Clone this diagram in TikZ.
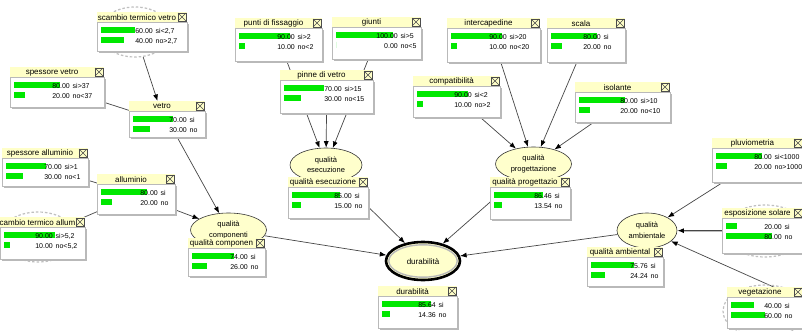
\documentclass[tikz,border=0pt]{standalone}
\usepackage{fontspec}
\setmainfont{Liberation Sans}
\usetikzlibrary{arrows.meta,shapes.geometric,calc}
\definecolor{tbyellow}{RGB}{255,255,200}
\definecolor{ellyellow}{RGB}{255,255,204}
\definecolor{barg}{RGB}{0,232,0}
\definecolor{linkgray}{RGB}{70,70,70}
\pgfdeclarelayer{bg}
\pgfsetlayers{bg,main}
\tikzset{
  monnode/.style={rectangle, inner sep=0pt, anchor=north west},
  monshadow/.style={fill=gray!55},
  monbody/.style={fill=white, draw=gray!55, line width=0.5pt},
  montitle/.style={inner sep=0pt, font=\fontsize{8}{9}\selectfont},
  val/.style={inner sep=0pt, font=\fontsize{7}{8}\selectfont},
  xbox/.style={rectangle, draw=gray!60!black, line width=0.4pt, fill=tbyellow, minimum size=7.5pt, inner sep=0pt},
  xline/.style={draw=gray!60!black, line width=0.4pt},
  ell/.style={ellipse, draw=black!80, line width=0.6pt, fill=ellyellow, inner sep=0pt, align=center, font=\fontsize{7.5}{10.5}\selectfont},
  hidell/.style={ellipse, draw=gray!50, line width=1.2pt, dash pattern=on 2.5pt off 2pt, inner sep=0pt},
  inv/.style={ellipse, minimum width=10pt, minimum height=8pt, inner sep=0pt},
  link/.style={draw=linkgray, line width=0.7pt, -{Latex[length=6.5pt,width=5pt,color=black]}}
}
\newcommand{\barw}{57}
\newcommand{\mon}[6]{%
  \def\curname{#1}\def\curx{#2}\def\cury{#4}%
  \node[monnode, minimum width={(#3-#2)*1pt}, minimum height={(#5-#4)*1pt}] (#1) at (#2,#4) {};
  \fill[monshadow] (#2+1.8,#4+11.8) rectangle (#3+1.8,#5+1.8);
  \fill[tbyellow] (#2,#4) rectangle (#3,#4+10);
  \filldraw[monbody] (#2,#4+10) rectangle (#3,#5);
  \node[montitle] (#1-t) at ({(#2+#3-10)/2},#4+5.3) {#6};
  \node[xbox] (#1-x) at (#3-5,#4+5) {};
  \draw[xline] (#1-x.north west) -- (#1-x.south east) (#1-x.north east) -- (#1-x.south west);
}
\newcommand{\rows}[7]{%
  \fill[barg] (\curx+4,\cury+15) rectangle ++({#2*\barw/100},6);
  \fill[barg] (\curx+4,\cury+25) rectangle ++({#5*\barw/100},6);
  \node[val,anchor=base east] (\curname-n1) at (#1,\cury+21.3) {#3};
  \node[val,anchor=base west] (\curname-l1) at (#1+2.5,\cury+21.3) {#4};
  \node[val,anchor=base east] (\curname-n2) at (#1,\cury+31.3) {#6};
  \node[val,anchor=base west] (\curname-l2) at (#1+2.5,\cury+31.3) {#7};
}
\begin{document}
\begin{tikzpicture}[x=1pt,y=-1pt]
\useasboundingbox (0,0) rectangle (802,331);
\begin{pgfonlayer}{bg}
\fill[white] (0,0) rectangle (802,331);
\end{pgfonlayer}

% hidden (dashed) node ellipses behind monitors
\node[hidell, minimum width=72pt, minimum height=50pt] (stv-e) at (135,32) {};
\node[hidell, minimum width=76pt, minimum height=50pt] (sta-e) at (38,237) {};
\node[hidell, minimum width=84pt, minimum height=52pt] (espo-e) at (765,231) {};
\node[hidell, minimum width=84pt, minimum height=52pt] (veg-e) at (765,311) {};
\node[inv] (vetro-e) at (165,122) {};
\node[inv] (all-e) at (136,195) {};

% visible node ellipses
\node[ell, minimum width=72pt, minimum height=34pt] (qe) at (326,165) {qualità\\esecuzione};
\node[ell, minimum width=76pt, minimum height=34pt] (qc) at (228.5,230) {qualità\\componenti};
\node[ell, minimum width=76pt, minimum height=34pt] (qp) at (533.5,164) {qualità\\progettazione};
\node[ell, minimum width=60pt, minimum height=35pt] (qa) at (647,230.5) {qualità\\ambientale};
\node[ellipse, draw=black, line width=2.6pt, fill=ellyellow, minimum width=74pt, minimum height=38pt, inner sep=0pt] (dur) at (423,261) {};
\draw[gray!55, line width=1.4pt] (dur.center) ellipse [x radius=34.2, y radius=16.2];
\node[inner sep=0pt, font=\fontsize{8}{9}\selectfont] (dur-lab) at (423,262) {durabilità};

% monitors
\mon{stv}{97}{187}{12}{51}{scambio termico vetro}
\rows{153}{60}{60.00}{si<2,7}{40}{40.00}{no>2,7}
\mon{sv}{10}{104}{67}{107}{spessore vetro}
\rows{70}{80}{80.00}{si>37}{20}{20.00}{no<37}
\mon{vetro}{129}{205}{101}{137}{vetro}
\rows{187}{70}{70.00}{si}{30}{30.00}{no}
\mon{sa}{2}{88}{148}{186}{spessore alluminio}
\rows{62}{70}{70.00}{si>1}{30}{30.00}{no<1}
\mon{all}{97}{175}{174}{214}{alluminio}
\rows{158}{80}{80.00}{si}{20}{20.00}{no}
\mon{sta}{0}{85}{217}{259}{cambio termico allum}
\rows{53}{90}{90.00}{si>5,2}{10}{10.00}{no<5,2}
\mon{pf}{235}{322}{18}{61}{punti di fissaggio}
\rows{295}{90}{90.00}{si>2}{10}{10.00}{no<2}
\mon{giunti}{332}{421}{17}{59}{giunti}
\rows{398}{100}{100.00}{si>5}{0}{0.00}{no<5}
\mon{pinne}{280}{373}{70}{113}{pinne di vetro}
\rows{342}{70}{70.00}{si>15}{30}{30.00}{no<15}
\mon{inter}{447}{540}{18}{62}{intercapedine}
\rows{507}{90}{90.00}{si>20}{10}{10.00}{no<20}
\mon{scala}{547}{625}{18}{62}{scala}
\rows{601}{80}{80.00}{si}{20}{20.00}{no}
\mon{compat}{413}{500}{76}{117}{compatibilità}
\rows{472}{90}{90.00}{si<2}{10}{10.00}{no>2}
\mon{isol}{575}{670}{82}{122}{isolante}
\rows{638}{80}{80.00}{si>10}{20}{20.00}{no<10}
\mon{qem}{288}{368}{177}{218}{qualità esecuzione}
\rows{352}{85}{85.00}{si}{15}{15.00}{no}
\mon{qcm}{188}{265}{238}{276}{qualità componen}
\rows{248}{74}{74.00}{si}{26}{26.00}{no}
\mon{qpm}{490}{570}{177}{219}{qualità progettazio}
\rows{552}{86.46}{86.46}{si}{13.54}{13.54}{no}
\mon{durm}{378}{457}{286}{328}{durabilità}
\rows{436}{85.64}{85.64}{si}{14.36}{14.36}{no}
\mon{qam}{587}{663}{247}{286}{qualità ambiental}
\rows{648}{75.76}{75.76}{si}{24.24}{24.24}{no}
\mon{pluv}{712}{803}{138}{182}{pluviometria}
\rows{772}{80}{80.00}{si<1000}{20}{20.00}{no>1000}
\mon{espo}{722}{803}{208}{253}{esposizione solare}
\rows{782}{20}{20.00}{si}{80}{80.00}{no}
\mon{veg}{727}{803}{287}{328}{vegetazione}
\rows{782}{40}{40.00}{si}{60}{60.00}{no}

% connectors
\begin{pgfonlayer}{bg}
\draw[link] (stv-e) -- (vetro.118);
\draw[link] (sv) -- (vetro-e);
\draw[link] (vetro) -- (qc);
\draw[link] (sa) -- (all-e);
\draw[link] (sta-e) -- (all-e);
\draw[link] (all-e) -- (qc);
\draw[link] (pf) -- (qe);
\draw[link] (giunti) -- (qe);
\draw[link] (pinne) -- (qe);
\draw[link] (qe) -- (dur);
\draw[link] (qc) -- (dur);
\draw[link] (qp) -- (dur);
\draw[link] (qa) -- (dur);
\draw[link] (compat) -- (qp);
\draw[link] (inter) -- (qp);
\draw[link] (scala) -- (qp);
\draw[link] (isol) -- (qp);
\draw[link] (pluv) -- (qa);
\draw[link, line width=1.3pt] (espo-e) -- (qa);
\draw[link] (veg.11) -- (qa);
\end{pgfonlayer}
\end{tikzpicture}
\end{document}
